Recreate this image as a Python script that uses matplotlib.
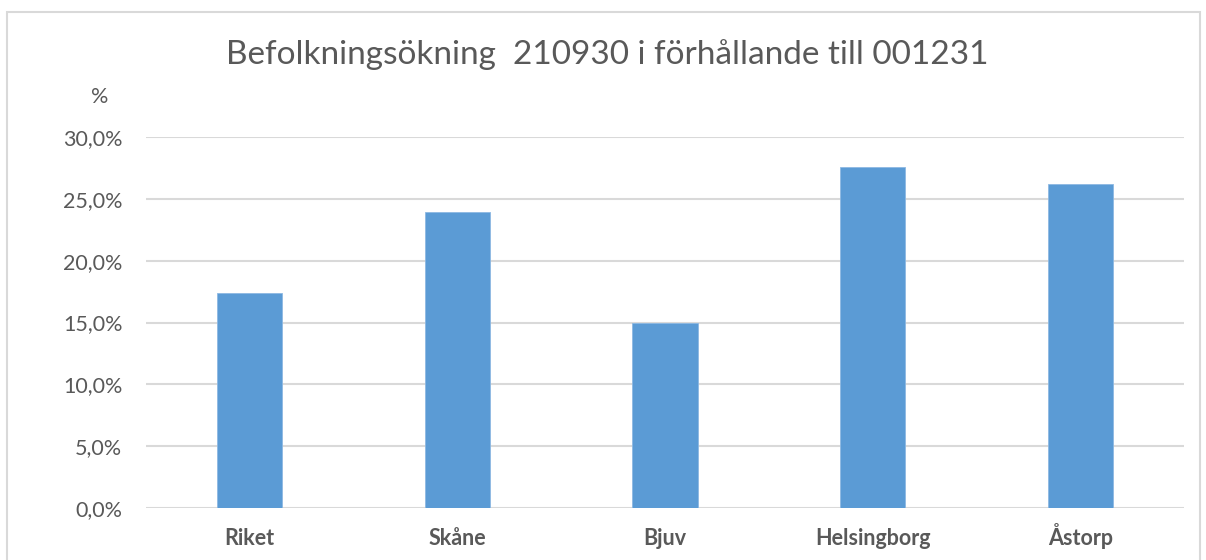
import matplotlib.pyplot as plt
from matplotlib.patches import Rectangle
from matplotlib.ticker import FuncFormatter

# data
categories = ["Riket", "Skåne", "Bjuv", "Helsingborg", "Åstorp"]
values = [17.4, 23.9, 15.0, 27.6, 26.2]
y_ticks = [0, 5, 10, 15, 20, 25, 30]

W, H = 1206, 560
bar_color = "#5B9BD5"
text_color = "#595959"
grid_color = "#D9D9D9"

plt.rcParams["font.family"] = ["Lato", "DejaVu Sans"]

fig = plt.figure(figsize=(W / 100, H / 100), dpi=100)
fig.patch.set_facecolor("white")

# outer chart frame
fig.patches.append(Rectangle((7 / W, -0.05), (1200 - 7) / W, 1.05 - 12 / H,
                             transform=fig.transFigure, fill=False,
                             edgecolor="#D9D9D9", lw=1.5))

left, right, top, bottom = 146, 1184, 137, 508
ax = fig.add_axes([left / W, 1 - bottom / H, (right - left) / W, (bottom - top) / H])

x = range(len(categories))
ax.bar(x, values, width=0.315, color=bar_color, edgecolor="#8DB8E3", lw=0.6, zorder=3)

ax.set_xlim(-0.5, len(categories) - 0.5)
ax.set_ylim(0, 30)
ax.set_yticks(y_ticks)
ax.yaxis.set_major_formatter(FuncFormatter(lambda v, p: f"{v:.1f}%".replace(".", ",")))
ax.set_xticks(list(x))
ax.set_xticklabels(categories, fontweight="bold")
for lbl in ax.get_xticklabels():
    lbl.set_va("baseline")

for s in ax.spines.values():
    s.set_visible(False)
ax.grid(axis="y", color=grid_color, lw=1.5, zorder=0)
ax.tick_params(axis="both", length=0, colors=text_color, labelsize=15.5)
ax.tick_params(axis="y", pad=17)
ax.tick_params(axis="x", pad=26.5)

fig.text(607 / W, 1 - 55 / H, "Befolkningsökning  210930 i förhållande till 001231",
         ha="center", va="center", fontsize=24, color=text_color)
fig.text(100 / W, 1 - 97 / H, "%", ha="center", va="center", fontsize=15.5, color=text_color)

fig.savefig("out.png", dpi=100)
